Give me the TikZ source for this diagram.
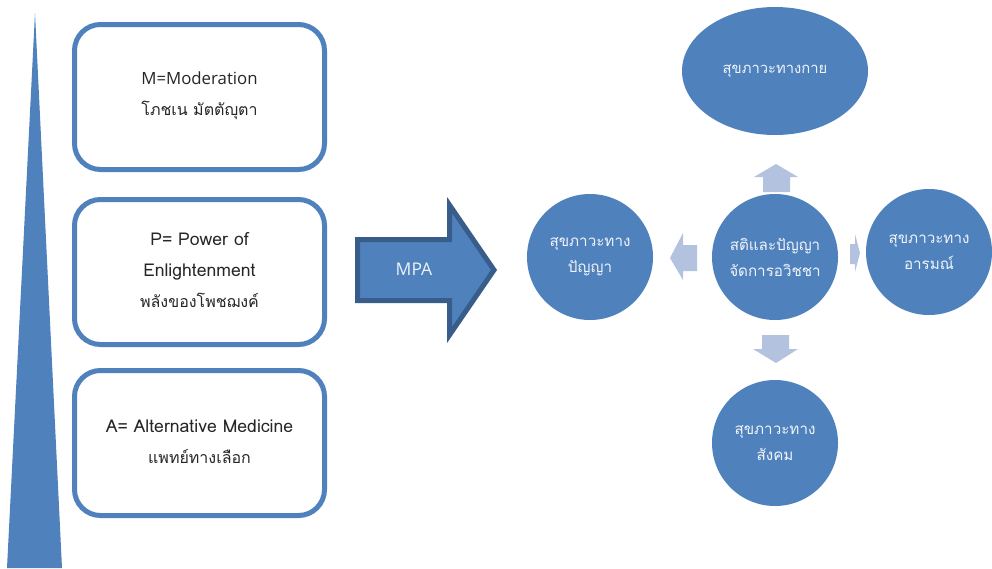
\documentclass[tikz,border=0pt]{standalone}
\usepackage{fontspec}
\setmainfont{Loma}[Script=Thai]
\newfontfamily\latinfont{Open Sans}
\usetikzlibrary{shapes.geometric}
\definecolor{blu}{HTML}{4F81BD}
\definecolor{dblu}{HTML}{385D8A}
\definecolor{lblu}{HTML}{B3C3DF}
\definecolor{txt}{HTML}{262626}
\newcommand{\lat}[1]{{\fontsize{17.6}{31}\selectfont #1}}
\tikzset{
  boxframe/.style={draw=blu, line width=5pt, rounded corners=26pt, fill=white},
  boxtext/.style={text=txt, align=center, font=\fontsize{16}{31}\selectfont},
  bubble/.style={circle, fill=blu, minimum size=126pt, inner sep=0pt, text=white!92!blu, align=center, font=\fontsize{15.2}{26}\selectfont},
  lightarrow/.style={fill=lblu},
}
\begin{document}
\begin{tikzpicture}[x=1pt,y=-1pt]
\useasboundingbox (0,0) rectangle (992,568);
% rising triangle
\fill[blu] (35,13) -- (62,568) -- (7,568) -- cycle;
% boxes
\draw[boxframe] (74.5,24.5) rectangle (324.5,169.5);
\draw[boxframe] (74.5,199.5) rectangle (324.5,344.5);
\draw[boxframe] (74.5,370.5) rectangle (324.5,515.5);
\node[boxtext] (m) at (199.5,96) {{\latinfont\fontsize{16.8}{31}\selectfont M=Moderation}\\โภชเน มัตตัญุตา};
\node[boxtext] (p) at (199.5,270) {\lat{P= Power of}\\\lat{Enlightenment}\\พลังของโพชฌงค์};
\node[boxtext] (a) at (199.5,442) {\lat{A= Alternative Medicine}\\แพทย์ทางเลือก};
% MPA arrow
\draw[dblu, line width=5pt, fill=blu, line join=miter]
  (357.5,239.5) -- (449.5,239.5) -- (449.5,205) -- (494,270) -- (449.5,335) -- (449.5,300.5) -- (357.5,300.5) -- cycle;
\node[text=white!90!blu, font=\latinfont\fontsize{17.5}{20}\selectfont] (mpa) at (414,269) {MPA};
% light arrows
\fill[lightarrow] (763,192) -- (763,177) -- (754,177) -- (776,164) -- (798,177) -- (790,177) -- (790,192) -- cycle;
\fill[lightarrow] (762,335) -- (789,335) -- (789,349) -- (798,349) -- (776,363) -- (753,349) -- (762,349) -- cycle;
\fill[lightarrow] (697,245) -- (697,271) -- (683,271) -- (683,280) -- (670,258) -- (683,233) -- (683,245) -- cycle;
\fill[lightarrow] (850,244) -- (855,244) -- (855,234) -- (860,253) -- (855,272) -- (855,264) -- (850,264) -- cycle;
% circles
\node[bubble] (wis) at (590,257) {สุขภาวะทาง\\ปัญญา};
\node[bubble] (ctr) at (775,257) {สติและปัญญา\\จัดการอวิชชา};
\node[bubble] (emo) at (929,252) {สุขภาวะทาง\\อารมณ์};
\node[bubble] (soc) at (775,443) {สุขภาวะทาง\\สังคม};
\node[ellipse, fill=blu, minimum width=186pt, minimum height=128pt, inner sep=0pt, text=white!92!blu, font=\fontsize{14.8}{26}\selectfont] (phy) at (775,71) {สุขภาวะทางกาย};
\end{tikzpicture}
\end{document}
